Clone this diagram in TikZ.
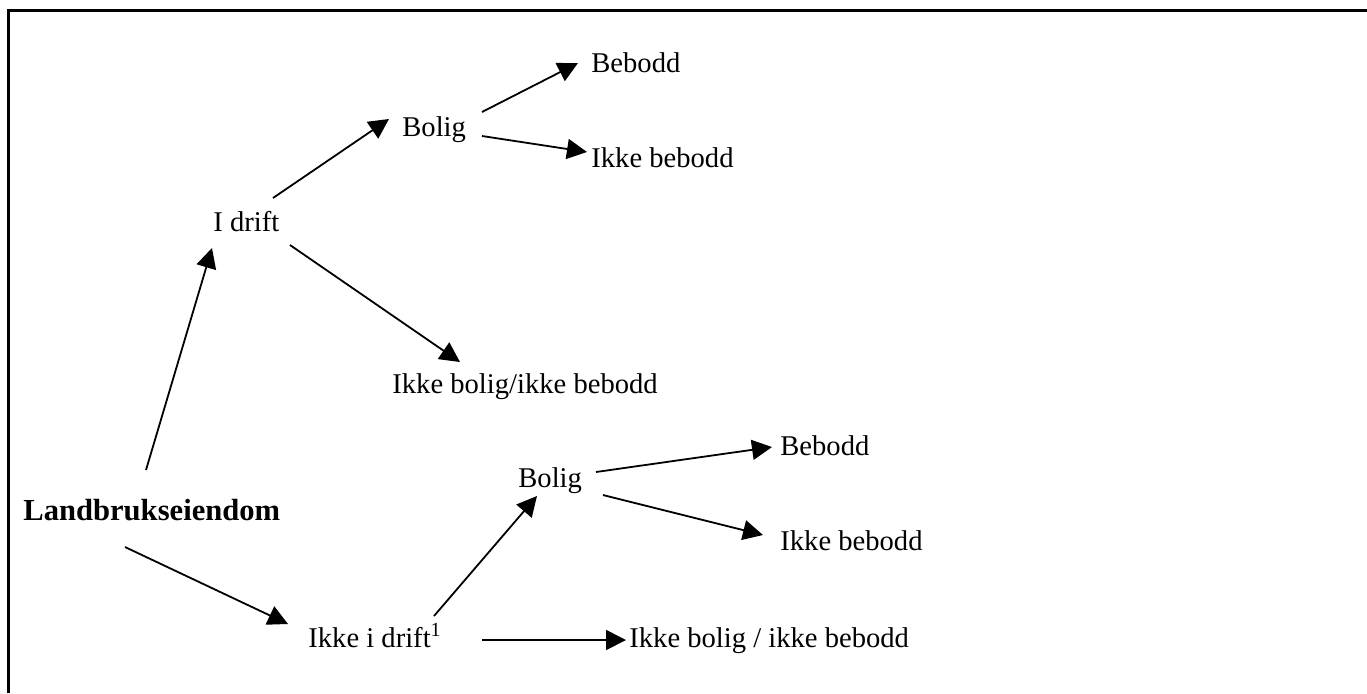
\documentclass[tikz,border=0pt]{standalone}
\usepackage{fontspec}
\setmainfont{Liberation Serif}
\usetikzlibrary{arrows.meta}
\begin{document}
\begin{tikzpicture}[x=0.5pt,y=-0.5pt,
  lbl/.style={anchor=base west,inner sep=0pt,font=\fontsize{14.3pt}{16pt}\selectfont},
  rootlbl/.style={anchor=base west,inner sep=0pt,font=\fontsize{15.3pt}{17pt}\selectfont\bfseries},
  arr/.style={line width=0.9pt,-{Triangle[length=10pt,width=10pt]}},
  frame/.style={line width=1.25pt}]
\useasboundingbox (0,0) rectangle (1367,693);
\draw[frame] (8.5,693) -- (8.5,10.5) -- (1367,10.5);
% nodes
\node[rootlbl] (land) at (23,520) {Landbrukseiendom};
\node[lbl] (idrift) at (213,231) {I drift};
\node[lbl] (bolig1) at (402,136) {Bolig};
\node[lbl] (beb1) at (591,72) {Bebodd};
\node[lbl] (ikbeb1) at (591,167) {Ikke bebodd};
\node[lbl] (ikbol1) at (392,393) {Ikke bolig/ikke bebodd};
\node[lbl] (ikdrift) at (308,647) {Ikke i drift\textsuperscript{1}};
\node[lbl] (bolig2) at (518,487) {Bolig};
\node[lbl] (beb2) at (780,455) {Bebodd};
\node[lbl] (ikbeb2) at (780,550) {Ikke bebodd};
\node[lbl] (ikbol2) at (629,647) {Ikke bolig / ikke bebodd};
% connectors
\draw[arr] ([shift={(123,-50)}]land.base west) -- ([shift={(-1,17)}]idrift.base west);
\draw[arr] ([shift={(77,14)}]idrift.base west) -- ([shift={(68,-31)}]ikbol1.base west);
\draw[arr] ([shift={(60,-33)}]idrift.base west) -- ([shift={(-13,-17)}]bolig1.base west);
\draw[arr] ([shift={(80,-24)}]bolig1.base west) -- ([shift={(-13,-9)}]beb1.base west);
\draw[arr] ([shift={(80,0)}]bolig1.base west) -- ([shift={(-4,-15)}]ikbeb1.base west);
\draw[arr] ([shift={(102,27)}]land.base west) -- ([shift={(-20,-23)}]ikdrift.base west);
\draw[arr] ([shift={(126,-31)}]ikdrift.base west) -- ([shift={(19,9)}]bolig2.base west);
\draw[arr] ([shift={(174,-7)}]ikdrift.base west) -- ([shift={(-3,-7)}]ikbol2.base west);
\draw[arr] ([shift={(78,-15)}]bolig2.base west) -- ([shift={(-8,-8)}]beb2.base west);
\draw[arr] ([shift={(85,8)}]bolig2.base west) -- ([shift={(-17,-15)}]ikbeb2.base west);
\end{tikzpicture}
\end{document}
